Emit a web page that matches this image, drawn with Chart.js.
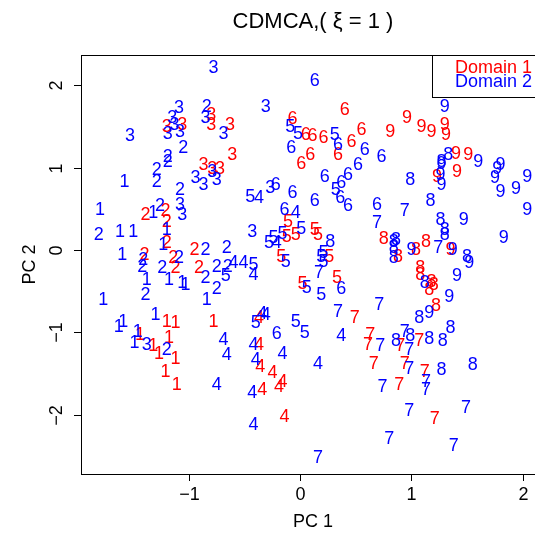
<!DOCTYPE html>
<html>
<head>
<meta charset="utf-8">
<script src="https://cdn.jsdelivr.net/npm/chart.js@4/dist/chart.umd.min.js"></script>
<style>
  html, body { margin: 0; padding: 0; background: #fff; overflow: hidden; }
  #wrap { width: 570px; height: 534px; }
</style>
</head>
<body>
<div id="wrap"><canvas id="chart" width="570" height="534"></canvas></div>
<script>
// Domain 1 (red): class label, PC1, PC2
const d1Lab = [
  1,1,1,1,1,1,1,1,1,1,
  2,2,2,2,2,2,2,2,2,
  3,3,3,3,3,3,3,3,3,
  4,4,4,4,4,4,4,4,
  5,5,5,5,5,5,5,5,5,
  6,6,6,6,6,6,6,6,6,6,
  7,7,7,7,7,7,7,7,7,7,
  8,8,8,8,8,8,8,8,8,8,
  9,9,9,9,9,9,9,9,9,9,9
];
const d1X = [
  -1.20,-1.12,-0.78,-1.44,-1.32,-1.18,-1.27,-1.12,-1.21,-1.11,
  -1.39,-1.21,-1.20,-1.20,-1.40,-0.95,-1.14,-1.12,-0.91,
  -0.80,-0.80,-1.20,-1.06,-0.63,-0.61,-0.87,-0.79,-0.72,
  -0.37,-0.37,-0.36,-0.25,-0.16,-0.19,-0.34,-0.14,
  -0.11,-0.12,-0.04,0.13,0.16,-0.17,0.26,0.02,0.33,
  0.40,-0.07,0.05,0.11,0.21,0.46,0.55,0.09,0.34,0.01,
  0.49,0.63,0.61,0.66,1.07,0.90,0.94,1.12,0.89,1.21,
  0.75,0.88,1.04,1.13,1.08,1.08,1.18,1.20,1.16,1.22,
  0.96,0.81,1.09,1.18,1.30,1.31,1.40,1.51,1.41,1.23,1.35
];
const d1Y = [
  -0.87,-0.89,-0.87,-1.03,-1.17,-1.07,-1.26,-1.32,-1.48,-1.64,
  0.43,0.47,0.34,0.08,-0.06,0.00,-0.10,-0.22,-0.22,
  1.64,1.52,1.50,1.52,1.52,1.15,1.03,0.99,0.99,
  -0.83,-1.15,-1.42,-1.49,-1.60,-1.66,-1.70,-2.03,
  0.34,0.16,0.18,0.24,0.18,-0.08,-0.08,-0.41,-0.34,
  1.70,1.59,1.40,1.38,1.36,1.31,1.46,1.15,1.15,1.04,
  -0.83,-1.03,-1.15,-1.38,-1.11,-1.17,-1.38,-1.48,-1.64,-2.05,
  0.14,-0.08,0.00,0.10,-0.22,-0.30,-0.39,-0.43,-0.49,-0.68,
  1.60,1.43,1.50,1.43,1.52,1.40,1.17,1.15,0.95,0.89,0.00
];

// Domain 2 (blue)
const d2Lab = [
  1,1,1,1,1,1,1,1,1,1,1,1,1,1,1,1,1,1,1,
  2,2,2,2,2,2,2,2,2,2,2,2,2,2,2,2,2,2,2,2,2,
  3,3,3,3,3,3,3,3,3,3,3,3,3,3,3,3,3,3,3,
  4,4,4,4,4,4,4,4,4,4,4,4,4,4,4,4,4,4,
  5,5,5,5,5,5,5,5,5,5,5,5,5,5,5,5,5,5,5,5,
  6,6,6,6,6,6,6,6,6,6,6,6,6,6,6,6,6,6,
  7,7,7,7,7,7,7,7,7,7,7,7,7,7,7,7,7,7,
  8,8,8,8,8,8,8,8,8,8,8,8,8,8,8,8,8,8,8,8,8,8,
  9,9,9,9,9,9,9,9,9,9,9,9,9,9,9,9,9,9,9,9
];
const d2X = [
  -1.58,-1.80,-1.32,-1.62,-1.50,-1.20,-1.23,-1.60,-1.38,-1.18,-1.06,-1.03,-1.77,-0.84,-1.30,-1.63,-1.59,-1.46,-1.49,
  -0.84,-1.05,-1.19,-1.19,-1.29,-1.29,-1.08,-1.26,-1.81,-1.41,-0.85,-0.66,-1.09,-1.42,-1.24,-0.75,-0.65,-0.85,-0.75,-1.39,-1.20,
  -0.78,-1.09,-0.85,-1.15,-1.13,-1.19,-1.08,-1.53,-0.69,-0.94,-0.87,-0.75,-0.79,-1.08,-1.06,-1.38,-0.31,-0.27,-0.43,
  -0.69,-0.66,-0.75,-0.37,-0.04,-0.21,-0.42,-0.34,-0.31,0.37,-0.42,-0.16,-0.40,0.16,-0.43,-0.42,-0.60,-0.51,
  -0.09,-0.02,0.31,-0.45,0.32,0.01,-0.16,-0.28,-0.24,0.21,-0.13,0.19,0.21,0.06,0.19,-0.40,-0.04,0.04,-0.67,-0.42,
  0.13,0.34,-0.08,0.58,0.73,0.52,0.22,0.37,0.43,0.36,0.43,0.69,-0.22,-0.07,0.13,-0.14,0.37,-0.21,
  0.17,0.34,0.71,0.72,0.94,0.98,0.98,1.13,1.13,0.74,0.98,1.49,0.80,1.38,0.16,0.69,0.94,1.24,
  0.27,1.33,1.27,0.99,1.17,1.26,1.30,1.30,0.84,0.86,0.84,0.84,1.50,1.12,1.07,1.35,0.99,1.16,1.28,0.86,1.27,1.55,
  1.30,1.60,1.80,1.27,1.77,1.75,1.26,1.27,2.04,1.94,1.80,2.04,1.47,1.83,1.00,1.37,1.52,1.41,1.34,1.16
];
const d2Y = [
  0.83,0.49,0.45,0.22,0.22,0.24,0.06,-0.06,-0.36,-0.36,-0.40,-0.43,-0.61,-0.61,-0.79,-0.93,-0.87,-0.99,-1.13,
  1.74,1.24,1.13,1.07,0.97,0.83,0.73,0.53,0.18,-0.12,0.00,0.02,-0.10,-0.20,-0.22,-0.20,-0.20,-0.34,-0.47,-0.55,-1.22,
  2.21,1.72,1.60,1.60,1.52,1.41,1.43,1.39,1.41,0.87,0.79,0.85,0.95,0.55,0.43,-1.15,1.74,0.75,0.22,
  -1.09,-1.28,-1.64,0.63,0.45,0.08,-0.30,-0.78,-0.79,-1.04,-1.15,-1.26,-1.34,-1.39,-1.74,-2.13,-0.16,-0.16,
  1.50,1.41,1.40,0.64,0.73,0.26,0.20,0.08,0.15,-0.04,-0.14,-0.08,-0.14,-0.46,-0.55,-0.89,-0.87,-1.01,-0.32,-0.18,
  2.05,1.28,1.24,1.22,1.13,1.03,0.89,0.81,0.91,0.63,0.53,0.55,0.79,0.69,0.59,0.49,-0.47,-1.02,
  -0.28,-0.75,-0.67,-1.17,-0.99,-1.22,-1.44,-1.60,-1.70,-1.66,-1.96,-1.92,-2.29,-2.38,-2.53,0.33,0.47,0.02,
  0.10,1.15,1.07,0.85,0.59,0.36,0.24,0.18,0.10,0.12,0.02,-0.10,-0.08,-0.40,-0.83,-0.95,-1.05,-1.08,-1.11,-1.11,-1.46,-1.40,
  1.74,1.07,1.03,1.05,0.99,0.87,0.91,0.79,0.89,0.74,0.70,0.49,0.36,0.15,0.00,0.00,-0.16,-0.32,-0.57,-0.77
];

const xTicks = [-1, 0, 1, 2];
const yTicks = [-2, -1, 0, 1, 2];
const legendNames = ['Domain 1', 'Domain 2'];
const colors = ['#ff0000', '#0000ff'];

const FONT = '"Liberation Sans", Arial, sans-serif';

function toPoints(xs, ys, labs) {
  return xs.map((x, i) => ({ x: x, y: ys[i], c: labs[i] }));
}

// draws each point as its class digit
const digitPlugin = {
  id: 'digits',
  afterDatasetsDraw(chart) {
    const ctx = chart.ctx;
    ctx.save();
    ctx.font = '18px ' + FONT;
    ctx.textAlign = 'center';
    ctx.textBaseline = 'middle';
    chart.data.datasets.forEach((ds, i) => {
      const meta = chart.getDatasetMeta(i);
      ctx.fillStyle = ds.borderColor;
      meta.data.forEach((pt, j) => {
        ctx.fillText(String(ds.data[j].c), pt.x, pt.y);
      });
    });
    ctx.restore();
  }
};

// box, axes, titles and legend in the R style
const framePlugin = {
  id: 'frame',
  afterDraw(chart) {
    const ctx = chart.ctx;
    const a = chart.chartArea;
    const xs = chart.scales.x, ys = chart.scales.y;
    ctx.save();
    ctx.strokeStyle = '#000';
    ctx.lineWidth = 1;
    ctx.strokeRect(Math.round(a.left) + 0.5, Math.round(a.top) + 0.5,
      Math.round(a.right - a.left), Math.round(a.bottom - a.top));

    ctx.fillStyle = '#000';
    ctx.font = '18px ' + FONT;
    ctx.textAlign = 'center';
    ctx.textBaseline = 'middle';

    xTicks.forEach(v => {
      const px = Math.round(xs.getPixelForValue(v)) + 0.5;
      ctx.beginPath();
      ctx.moveTo(px, a.bottom);
      ctx.lineTo(px, a.bottom + 7);
      ctx.stroke();
      ctx.fillText(v < 0 ? '\u2212' + Math.abs(v) : String(v), px, a.bottom + 21);
    });

    yTicks.forEach(v => {
      const py = Math.round(ys.getPixelForValue(v)) + 0.5;
      ctx.beginPath();
      ctx.moveTo(a.left, py);
      ctx.lineTo(a.left - 7, py);
      ctx.stroke();
      ctx.save();
      ctx.translate(a.left - 24, py);
      ctx.rotate(-Math.PI / 2);
      ctx.fillText(v < 0 ? '\u2212' + Math.abs(v) : String(v), 0, 0);
      ctx.restore();
    });

    const cx = (a.left + a.right) / 2;
    const cy = (a.top + a.bottom) / 2;
    ctx.fillText('PC 1', cx, 522);
    ctx.save();
    ctx.translate(30, cy);
    ctx.rotate(-Math.PI / 2);
    ctx.fillText('PC 2', 0, 0);
    ctx.restore();

    ctx.font = '22px ' + FONT;
    ctx.fillText('CDMCA,( \u03BE = 1 )', cx, 22);

    // legend (top right corner of the plot)
    ctx.strokeRect(432.5, a.top + 0.5, 160, 42);
    ctx.font = '18px ' + FONT;
    ctx.textAlign = 'left';
    legendNames.forEach((name, i) => {
      ctx.fillStyle = colors[i];
      ctx.fillText(name, 455, a.top + 13 + i * 14);
    });
    ctx.restore();
  }
};

new Chart(document.getElementById('chart'), {
  type: 'scatter',
  data: {
    datasets: [
      { label: legendNames[0], data: toPoints(d1X, d1Y, d1Lab), borderColor: colors[0], backgroundColor: colors[0], pointRadius: 0 },
      { label: legendNames[1], data: toPoints(d2X, d2Y, d2Lab), borderColor: colors[1], backgroundColor: colors[1], pointRadius: 0 }
    ]
  },
  options: {
    responsive: false,
    animation: false,
    events: [],
    layout: { padding: { left: 81, top: 55, right: 25, bottom: 60 } },
    plugins: { legend: { display: false }, tooltip: { enabled: false }, title: { display: false } },
    scales: {
      x: { type: 'linear', min: -1.97, max: 2.2, display: false },
      y: { type: 'linear', min: -2.72, max: 2.37, display: false }
    }
  },
  plugins: [digitPlugin, framePlugin]
});
</script>
</body>
</html>
